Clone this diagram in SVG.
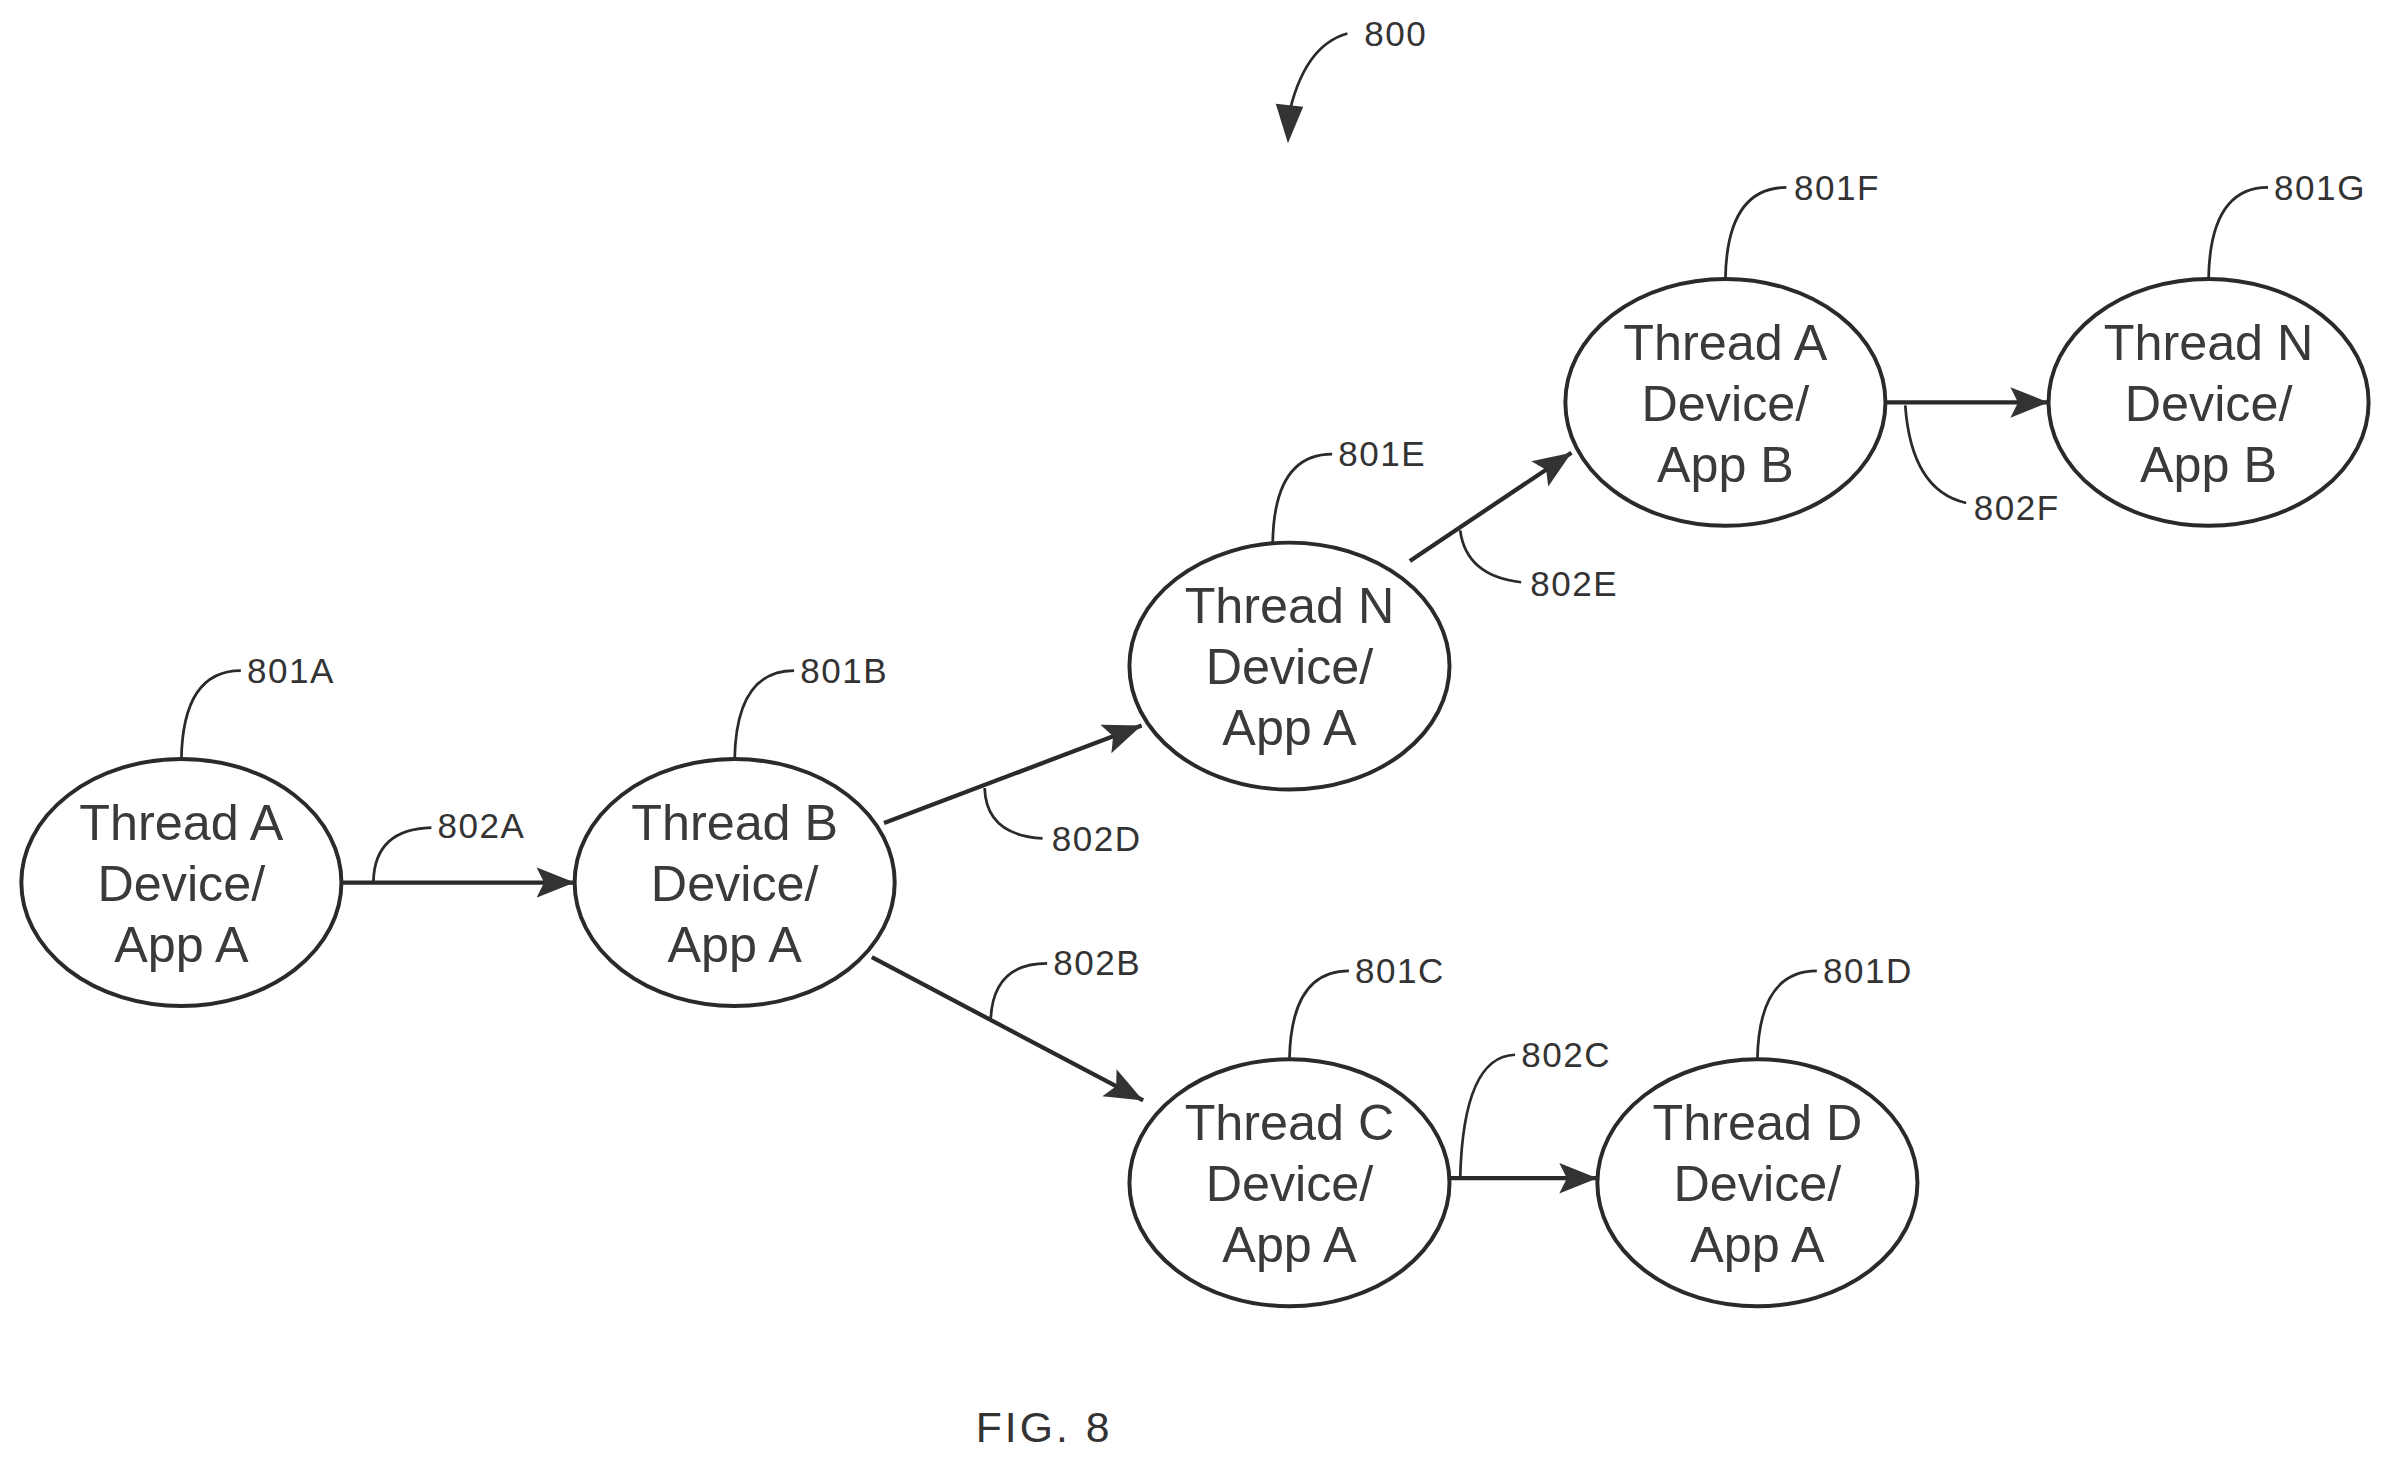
<svg xmlns="http://www.w3.org/2000/svg" width="2390" height="1463" viewBox="0 0 2390 1463">
<style>
.n{fill:none;stroke:#2a2a2a;stroke-width:2.6}
.t{font-family:"Liberation Sans",Arial,sans-serif;font-size:33px;fill:#3a3a3a;text-anchor:middle}
.l{font-family:"Liberation Sans",Arial,sans-serif;font-size:23px;fill:#333;letter-spacing:1px}
.e{fill:none;stroke:#2a2a2a;stroke-width:2.8}
.ld{fill:none;stroke:#2a2a2a;stroke-width:1.8}
</style>
<defs>
<marker id="ah" markerUnits="userSpaceOnUse" markerWidth="26" markerHeight="22" refX="25" refY="10" orient="auto"><path d="M0,0 L25,10 L0,20 L5,10 Z" fill="#333"/></marker>
</defs>
<rect width="2390" height="1463" fill="#fff"/>
<g transform="scale(1.5242)">
<g id="n801A"><ellipse class="n" cx="119" cy="579" rx="105" ry="81"/><text class="t" x="119" y="551">Thread A</text><text class="t" x="119" y="591">Device/</text><text class="t" x="119" y="631">App A</text><path class="ld" d="M119,498 Q120,440 158,440"/><text class="l" x="162" y="448">801A</text></g>
<g id="n801B"><ellipse class="n" cx="482" cy="579" rx="105" ry="81"/><text class="t" x="482" y="551">Thread B</text><text class="t" x="482" y="591">Device/</text><text class="t" x="482" y="631">App A</text><path class="ld" d="M482,498 Q483,440 521,440"/><text class="l" x="525" y="448">801B</text></g>
<g id="n801E"><ellipse class="n" cx="846" cy="437" rx="105" ry="81"/><text class="t" x="846" y="409">Thread N</text><text class="t" x="846" y="449">Device/</text><text class="t" x="846" y="489">App A</text><path class="ld" d="M835,356 Q836,298 874,298"/><text class="l" x="878" y="306">801E</text></g>
<g id="n801C"><ellipse class="n" cx="846" cy="776" rx="105" ry="81"/><text class="t" x="846" y="748">Thread C</text><text class="t" x="846" y="788">Device/</text><text class="t" x="846" y="828">App A</text><path class="ld" d="M846,695 Q847,637 885,637"/><text class="l" x="889" y="645">801C</text></g>
<g id="n801D"><ellipse class="n" cx="1153" cy="776" rx="105" ry="81"/><text class="t" x="1153" y="748">Thread D</text><text class="t" x="1153" y="788">Device/</text><text class="t" x="1153" y="828">App A</text><path class="ld" d="M1153,695 Q1154,637 1192,637"/><text class="l" x="1196" y="645">801D</text></g>
<g id="n801F"><ellipse class="n" cx="1132" cy="264" rx="105" ry="81"/><text class="t" x="1132" y="236">Thread A</text><text class="t" x="1132" y="276">Device/</text><text class="t" x="1132" y="316">App B</text><path class="ld" d="M1132,183 Q1133,123 1172,123"/><text class="l" x="1177" y="131">801F</text></g>
<g id="n801G"><ellipse class="n" cx="1449" cy="264" rx="105" ry="81"/><text class="t" x="1449" y="236">Thread N</text><text class="t" x="1449" y="276">Device/</text><text class="t" x="1449" y="316">App B</text><path class="ld" d="M1449,183 Q1450,123 1488,123"/><text class="l" x="1492" y="131">801G</text></g>
<g id="connectors">
<path class="e" d="M224,579 L377,579" marker-end="url(#ah)"/>
<path class="e" d="M580,540 L749,476" marker-end="url(#ah)"/>
<path class="e" d="M572,628 L750,722" marker-end="url(#ah)"/>
<path class="e" d="M951,773 L1048,773" marker-end="url(#ah)"/>
<path class="e" d="M925,368 L1031,297" marker-end="url(#ah)"/>
<path class="e" d="M1237,264 L1344,264" marker-end="url(#ah)"/>
<path class="ld" d="M245,578 Q246,544 283,543"/><text class="l" x="287" y="550">802A</text>
<path class="ld" d="M646,517 Q647,548 684,550"/><text class="l" x="690" y="558">802D</text>
<path class="ld" d="M650,668 Q652,632 687,632"/><text class="l" x="691" y="640">802B</text>
<path class="ld" d="M958,773 Q960,693 994,692"/><text class="l" x="998" y="700">802C</text>
<path class="ld" d="M958,348 Q962,378 998,382"/><text class="l" x="1004" y="391">802E</text>
<path class="ld" d="M1250,266 Q1254,322 1290,330"/><text class="l" x="1295" y="341">802F</text>
<path class="ld" d="M884,22 Q855,30 845,78" stroke-width="2.4"/>
<path d="M837,68 L845,94 L855,70 Z" fill="#333"/>
</g>
<text class="l" x="895" y="30">800</text>
<text class="l" x="685" y="946" text-anchor="middle" style="font-size:28px;letter-spacing:2px">FIG. 8</text>
</g>
</svg>
